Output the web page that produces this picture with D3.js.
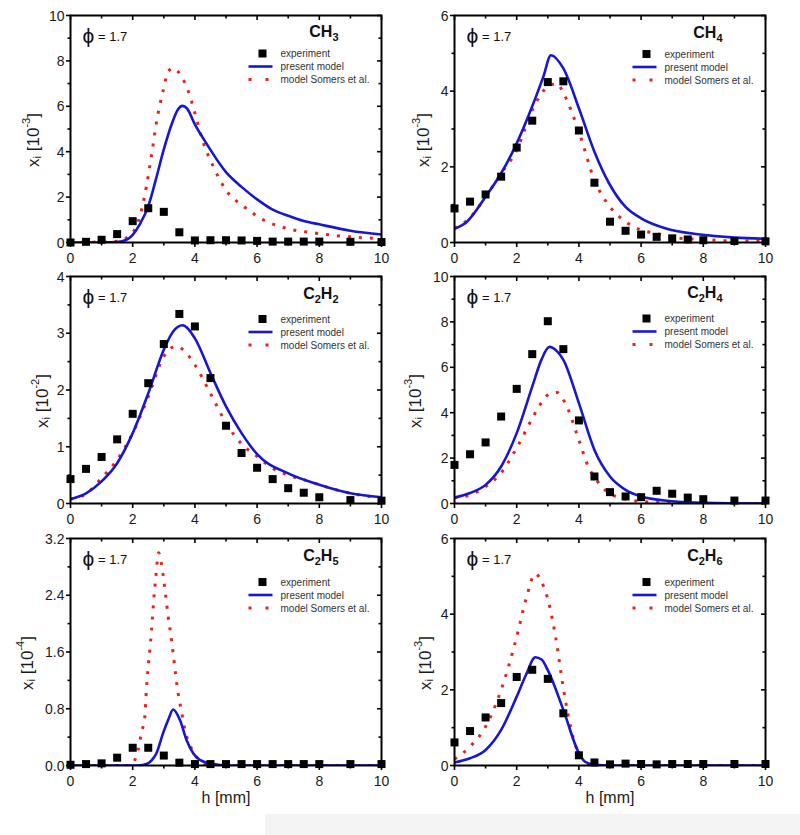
<!DOCTYPE html>
<html><head><meta charset="utf-8">
<script src="https://cdn.jsdelivr.net/npm/d3@7"></script>
<style>
body{margin:0;background:#fff}
svg{display:block}
text{font-family:"Liberation Sans",Arial,Helvetica,sans-serif}
</style>
</head><body>
<svg id="c" width="800" height="835"></svg>
<script>
// ---------------- DATA ----------------
const expH = [0,0.5,1,1.5,2,2.5,3,3.5,4,4.5,5,5.5,6,6.5,7,7.5,8,9,10];

// CH3 [10^-3]
const ch3Exp  = [0.0,0.03,0.12,0.37,0.94,1.51,1.35,0.45,0.09,0.10,0.10,0.09,0.07,0.04,0.04,0.04,0.04,0.03,0.02];
const ch3PresH = [0,1,1.5,1.8,2.0,2.25,2.5,2.75,3.0,3.25,3.45,3.6,3.75,4.0,4.4,5.0,5.5,6.0,6.5,7.0,7.5,8.0,9.0,10];
const ch3PresY = [0,0,0.02,0.12,0.34,0.85,1.6,2.8,4.1,5.2,5.85,6.02,5.9,5.2,4.3,3.1,2.45,1.9,1.45,1.18,0.95,0.8,0.52,0.35];
const ch3SomH = [0,1.5,2.0,2.23,2.44,2.6,2.76,2.98,3.14,3.3,3.57,3.78,4.0,4.27,4.59,5.0,5.56,6.2,6.85,7.9,9,10];
const ch3SomY = [0,0.05,0.45,1.15,2.47,3.8,5.26,6.7,7.53,7.68,7.3,6.7,5.7,4.4,3.35,2.3,1.6,1.0,0.66,0.41,0.25,0.17];

// CH4 [10^-3]
const ch4Exp  = [0.90,1.08,1.27,1.74,2.51,3.22,4.24,4.26,2.96,1.58,0.55,0.31,0.21,0.15,0.11,0.08,0.06,0.04,0.03];
const ch4PresH = [0,0.4,1,1.5,2,2.5,2.86,3.1,3.5,4.0,4.48,5.0,5.5,6.0,6.8,7.9,9,10];
const ch4PresY = [0.36,0.55,1.21,1.83,2.62,3.6,4.39,4.95,4.6,3.55,2.44,1.52,0.94,0.64,0.37,0.21,0.13,0.1];
const ch4SomH = [0,0.5,1,1.5,2,2.5,3,3.3,3.5,4,4.5,5,5.5,6,6.5,7,8,9,10];
const ch4SomY = [0.38,0.66,1.21,1.83,2.44,3.5,4.12,4.2,3.95,2.93,1.65,0.94,0.55,0.33,0.24,0.13,0.08,0.04,0.04];

// C2H2 [10^-2]
const c2h2Exp = [0.43,0.61,0.82,1.13,1.58,2.12,2.81,3.34,3.12,2.21,1.37,0.89,0.63,0.43,0.27,0.19,0.11,0.06,0.05];
const c2h2PresH = [0,0.5,1,1.5,2,2.5,3,3.3,3.6,4,4.5,5,5.5,6,7,8,9,10];
const c2h2PresY = [0.08,0.18,0.39,0.71,1.24,1.94,2.71,3.03,3.14,2.91,2.3,1.71,1.24,0.87,0.53,0.33,0.18,0.11];
const c2h2SomH = [0,0.5,1,1.5,2,2.5,3,3.4,3.6,4,4.5,5,5.5,6,6.5,7,7.5,8,9,10];
const c2h2SomY = [0.08,0.17,0.45,0.77,1.24,1.88,2.59,2.77,2.72,2.44,1.94,1.42,1.05,0.83,0.62,0.5,0.42,0.33,0.18,0.1];

// C2H4 [10^-3]
const c2h4Exp = [1.70,2.17,2.69,3.83,5.05,6.58,8.03,6.80,3.66,1.19,0.50,0.31,0.28,0.56,0.43,0.26,0.19,0.13,0.13];
const c2h4PresH = [0,0.5,1,1.5,2,2.5,2.8,3.05,3.3,3.5,4,4.5,5,5.5,6,7,8,10];
const c2h4PresY = [0.26,0.46,0.82,1.63,3.1,5.15,6.35,6.9,6.7,6.33,4.42,2.36,1.19,0.6,0.31,0.1,0.03,0];
const c2h4SomH = [0,0.5,1,1.5,2,2.5,2.75,3.05,3.3,3.55,4,4.3,4.6,4.9,5.5,6,7,8,10];
const c2h4SomY = [0.25,0.38,0.75,1.35,2.45,3.75,4.35,4.83,4.89,4.45,2.8,1.63,0.97,0.53,0.19,0.09,0.02,0,0];

// C2H5 [10^-4]
const c2h5Exp = [0.01,0.02,0.03,0.11,0.25,0.25,0.14,0.04,0.02,0.02,0.02,0.02,0.02,0.02,0.02,0.02,0.02,0.02,0.02];
const c2h5PresH = [0,2.2,2.44,2.6,2.76,2.98,3.14,3.3,3.52,3.73,3.95,4.16,4.6,5,10];
const c2h5PresY = [0,0,0.02,0.07,0.17,0.46,0.64,0.79,0.64,0.36,0.17,0.08,0.02,0,0];
const c2h5SomH = [0,1.9,2.06,2.17,2.28,2.39,2.44,2.49,2.57,2.63,2.68,2.74,2.83,2.98,3.06,3.14,3.22,3.3,3.38,3.46,3.57,3.68,3.86,4.05,4.27,4.6,10];
const c2h5SomY = [0,0,0.07,0.22,0.46,0.69,1.07,1.35,1.72,2.05,2.36,2.64,3.0,2.68,2.4,2.1,1.86,1.58,1.28,1.02,0.76,0.5,0.27,0.12,0.03,0,0];

// C2H6 [10^-3]
const c2h6Exp = [0.61,0.91,1.27,1.65,2.34,2.53,2.29,1.38,0.27,0.08,0.03,0.05,0.04,0.03,0.04,0.04,0.04,0.04,0.04];
const c2h6PresH = [0,0.5,1,1.5,2,2.3,2.6,2.8,3,3.5,4,4.2,4.5,5,10];
const c2h6PresY = [0.08,0.19,0.41,0.94,1.82,2.4,2.86,2.8,2.52,1.47,0.33,0.1,0.02,0,0];
const c2h6SomH = [0,0.5,1,1.5,2,2.3,2.6,2.8,3.0,3.25,3.5,3.75,4.0,4.25,4.5,10];
const c2h6SomY = [0.17,0.5,1.03,2.0,3.4,4.4,5.07,4.85,4.4,3.4,2.05,0.95,0.3,0.05,0,0];

const xTicks = [0,2,4,6,8,10];
const phiLabel = "= 1.7";
const legendLabels = ["experiment","present model","model Somers et al."];
const xTitle = "h [mm]";

// ---------------- LAYOUT ----------------
const colLeft = [70.5, 454.5];
const rowTop = [15.5, 276.5, 538.5];
const W = 311, H = 227;
const BLUE = "#1717cf", RED = "#e8231c";

const panels = [
  {name:[["CH",0],["3",1]], unit:"-3", yMax:10, yStep:2, yMinor:1, fmt:d3.format("d"), col:0,row:0,
   exp:ch3Exp, pres:[ch3PresH,ch3PresY], som:[ch3SomH,ch3SomY], titleDx:-38, legY:38, nameY:21},
  {name:[["CH",0],["4",1]], unit:"-3", yMax:6, yStep:2, yMinor:1, fmt:d3.format("d"), col:1,row:0,
   exp:ch4Exp, pres:[ch4PresH,ch4PresY], som:[ch4SomH,ch4SomY], titleDx:-31.5, legY:38.5, nameY:22},
  {name:[["C",0],["2",1],["H",0],["2",1]], unit:"-2", yMax:4, yStep:1, yMinor:0.5, fmt:d3.format("d"), col:0,row:1,
   exp:c2h2Exp, pres:[c2h2PresH,c2h2PresY], som:[c2h2SomH,c2h2SomY], titleDx:-29, legY:42.5, nameY:22},
  {name:[["C",0],["2",1],["H",0],["4",1]], unit:"-3", yMax:10, yStep:2, yMinor:1, fmt:d3.format("d"), col:1,row:1,
   exp:c2h4Exp, pres:[c2h4PresH,c2h4PresY], som:[c2h4SomH,c2h4SomY], titleDx:-39.5, legY:42, nameY:21},
  {name:[["C",0],["2",1],["H",0],["5",1]], unit:"-4", yMax:3.2, yStep:0.8, yMinor:0.4, fmt:d3.format(".1f"), col:0,row:2,
   exp:c2h5Exp, pres:[c2h5PresH,c2h5PresY], som:[c2h5SomH,c2h5SomY], titleDx:-44, legY:43.5, nameY:22},
  {name:[["C",0],["2",1],["H",0],["6",1]], unit:"-3", yMax:6, yStep:2, yMinor:1, fmt:d3.format("d"), col:1,row:2,
   exp:c2h6Exp, pres:[c2h6PresH,c2h6PresY], som:[c2h6SomH,c2h6SomY], titleDx:-29.5, legY:43.5, nameY:22}
];

const svg = d3.select("#c");
svg.append("rect").attr("x",0).attr("y",0).attr("width",800).attr("height",835).attr("fill","#fff");
svg.append("rect").attr("x",265).attr("y",814).attr("width",535).attr("height",21).attr("fill","#f4f4f4");

panels.forEach((p,i)=>{
  const L = colLeft[p.col], T = rowTop[p.row];
  const x = d3.scaleLinear().domain([0,10]).range([L, L+W]);
  const y = d3.scaleLinear().domain([0,p.yMax]).range([T+H, T]);
  const g = svg.append("g");
  const clipId = "clip"+i;
  svg.append("clipPath").attr("id",clipId).append("rect")
     .attr("x",L).attr("y",T).attr("width",W).attr("height",H);

  const line = d3.line().x((d)=>x(d[0])).y((d)=>y(d[1])).curve(d3.curveMonotoneX);
  const som = p.som[0].map((h,k)=>[h,p.som[1][k]]);
  const pres = p.pres[0].map((h,k)=>[h,p.pres[1][k]]);
  g.append("path").attr("d",line(som)).attr("fill","none").attr("stroke",RED)
    .attr("stroke-width",3).attr("stroke-dasharray","3,8").attr("clip-path",`url(#${clipId})`);
  g.append("path").attr("d",line(pres)).attr("fill","none").attr("stroke",BLUE)
    .attr("stroke-width",2.6).attr("clip-path",`url(#${clipId})`);

  // experiment squares
  const s = 8;
  g.selectAll("rect.exp").data(expH.map((h,k)=>[h,p.exp[k]])).enter().append("rect")
    .attr("x",(d)=>x(d[0])-s/2).attr("y",(d)=>y(d[1])-s/2).attr("width",s).attr("height",s).attr("fill","#000");

  // frame
  g.append("rect").attr("x",L).attr("y",T).attr("width",W).attr("height",H)
    .attr("fill","none").attr("stroke","#000").attr("stroke-width",2);

  // ticks
  const tk = g.append("g").attr("stroke","#000").attr("stroke-width",1.6);
  d3.range(0,10.001,1).forEach((v)=>{
    const maj = Math.round(v)%2===0, len = maj?4.5:3;
    const xx = x(v);
    tk.append("line").attr("x1",xx).attr("x2",xx).attr("y1",T+H).attr("y2",T+H+len);
    tk.append("line").attr("x1",xx).attr("x2",xx).attr("y1",T).attr("y2",T+len);
  });
  const nMinor = Math.round(p.yMax/p.yMinor);
  for(let k=0;k<=nMinor;k++){
    const v = k*p.yMinor;
    const maj = k % Math.round(p.yStep/p.yMinor) === 0, len = maj?4.5:3;
    const yy = y(v);
    tk.append("line").attr("x1",L).attr("x2",L-len).attr("y1",yy).attr("y2",yy);
    tk.append("line").attr("x1",L+W).attr("x2",L+W-len).attr("y1",yy).attr("y2",yy);
  }

  // tick labels
  xTicks.forEach((v)=>{
    g.append("text").attr("x",x(v)).attr("y",T+H+20).attr("text-anchor","middle")
      .attr("font-size",14).attr("fill","#1a1a1a").text(v);
  });
  const nMaj = Math.round(p.yMax/p.yStep);
  for(let k=0;k<=nMaj;k++){
    const v = k*p.yStep;
    g.append("text").attr("x",L-6).attr("y",y(v)+5).attr("text-anchor","end")
      .attr("font-size",14).attr("fill","#1a1a1a").text(p.fmt(v));
  }

  // y title
  const tx = L + p.titleDx, ty = T + H/2 + 11;
  const yt = g.append("text").attr("transform",`translate(${tx},${ty}) rotate(-90)`)
    .attr("text-anchor","middle").attr("dominant-baseline","central").attr("font-size",17).attr("fill","#1a1a1a");
  yt.append("tspan").text("x");
  yt.append("tspan").attr("font-size",11).attr("dy",4).text("i");
  yt.append("tspan").attr("dy",-4).text(" [10");
  yt.append("tspan").attr("font-size",11).attr("dy",-7).text(p.unit);
  yt.append("tspan").attr("dy",7).text("]");

  // x title on bottom row
  if(p.row===2){
    g.append("text").attr("x",L+W/2).attr("y",T+H+37).attr("text-anchor","middle")
      .attr("font-size",16).attr("fill","#1a1a1a").text(xTitle);
  }

  // phi label
  g.append("text").attr("x",L+12).attr("y",T+27).attr("font-size",21).attr("fill","#111").text("\u03D5");
  g.append("text").attr("x",L+27.5).attr("y",T+25).attr("font-size",13).attr("fill","#111").text(phiLabel);

  // species name
  const nt = g.append("text").attr("x",L+W-43).attr("y",T+p.nameY).attr("text-anchor","end")
    .attr("font-size",16).attr("font-weight","bold").attr("fill","#111");
  let shifted = false;
  p.name.forEach(([t,sub])=>{
    const ts = nt.append("tspan").text(t);
    if(sub){ ts.attr("font-size",11).attr("dy", shifted?0:4); shifted = true; }
    else { if(shifted){ ts.attr("dy",-4); shifted=false; } }
  });

  // legend
  const lx = L+178, ly = T+p.legY, dyL = 13;
  g.append("rect").attr("x",L+192-4).attr("y",ly-4).attr("width",8).attr("height",8).attr("fill","#000");
  g.append("line").attr("x1",lx).attr("x2",lx+24).attr("y1",ly+dyL).attr("y2",ly+dyL)
    .attr("stroke",BLUE).attr("stroke-width",2.6);
  g.append("line").attr("x1",lx).attr("x2",lx+24).attr("y1",ly+2*dyL).attr("y2",ly+2*dyL)
    .attr("stroke",RED).attr("stroke-width",3).attr("stroke-dasharray","3,14");
  legendLabels.forEach((t,k)=>{
    g.append("text").attr("x",L+210).attr("y",ly+k*dyL+3.5).attr("font-size",10)
      .attr("fill","#333").text(t);
  });
});
</script>
</body></html>
